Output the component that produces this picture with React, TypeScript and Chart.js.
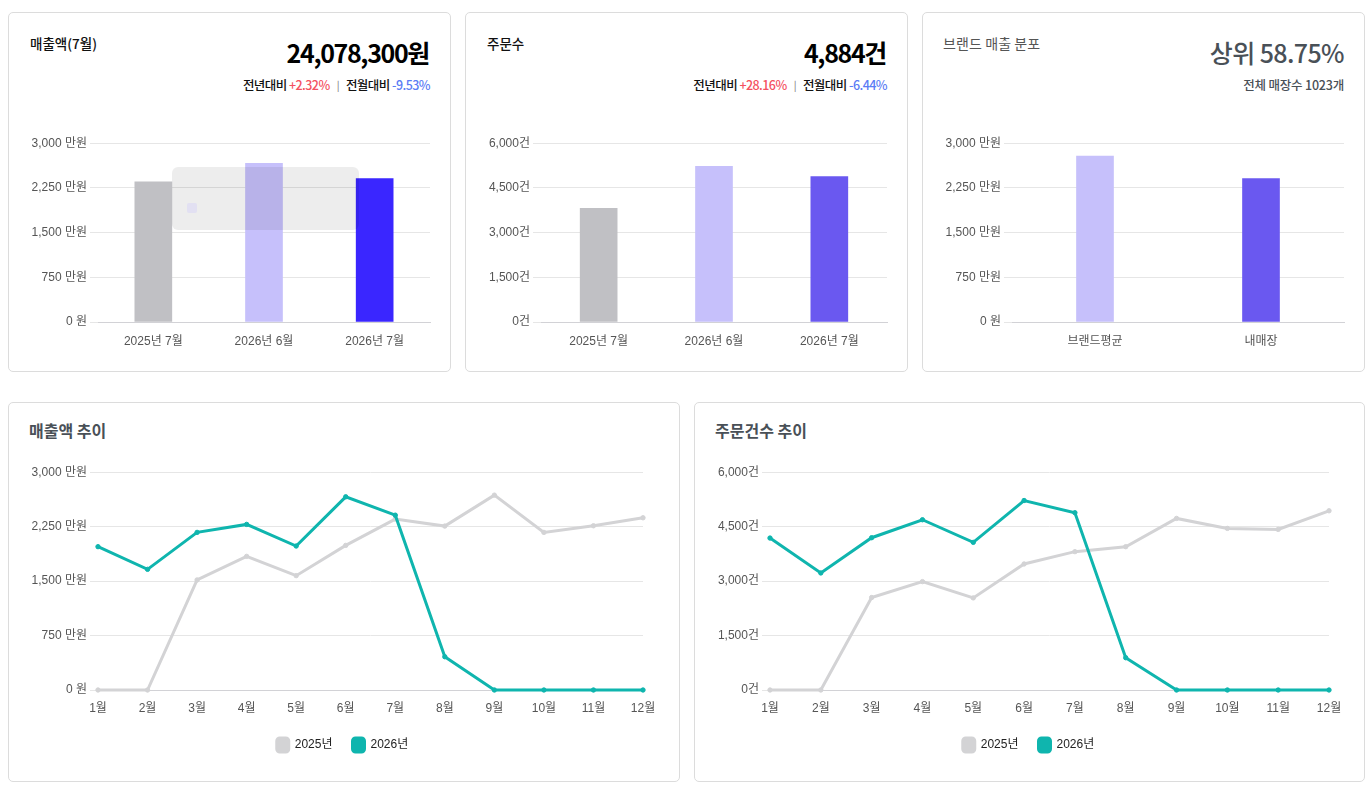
import React, { useEffect, useRef } from "react";
import { Chart, registerables } from "chart.js";

Chart.register(...registerables);

const barLabelsA = ["2025년 7월", "2026년 6월", "2026년 7월"];
const salesBars = [2353, 2662, 2408];
const orderBars = [3811, 5220, 4884];
const brandLabels = ["브랜드평균", "내매장"];
const brandBars = [2782, 2408];
const months = ["1월", "2월", "3월", "4월", "5월", "6월", "7월", "8월", "9월", "10월", "11월", "12월"];
const sales2025 = [0, 0, 1516, 1841, 1575, 1992, 2354, 2258, 2684, 2171, 2262, 2372];
const sales2026 = [1974, 1662, 2171, 2281, 1983, 2661, 2408, 458, 0, 0, 0, 0];
const orders2025 = [0, 0, 2547, 2986, 2537, 3472, 3811, 3948, 4727, 4452, 4424, 4937];
const orders2026 = [4186, 3224, 4195, 4690, 4067, 5220, 4884, 889, 0, 0, 0, 0];

const FONT = '"Liberation Sans", "Noto Sans CJK KR", sans-serif';
const KR = '"Noto Sans CJK KR", "Noto Sans", sans-serif';
const won = (v: number) => (v === 0 ? "0 원" : `${v.toLocaleString("en-US")} 만원`);
const gun = (v: number) => `${v.toLocaleString("en-US")}건`;

function axes(max: number, fmt: (v: number) => string, axisW: number, xH: number, xPad: number) {
  return {
    x: {
      grid: { display: false },
      border: { display: true, color: "#d2d2d6" },
      ticks: { color: "#555", font: { family: FONT, size: 12 }, padding: xPad, maxRotation: 0, autoSkip: false },
      afterFit: (s: any) => { s.height = xH; },
    },
    y: {
      min: 0,
      max,
      grid: { color: "#e6e6e6" },
      border: { display: false },
      ticks: { stepSize: max / 4, color: "#555", font: { family: FONT, size: 12 }, callback: (v: any) => fmt(Number(v)) },
      afterFit: (s: any) => { s.width = axisW; },
    },
  };
}

function BarChart(p: { box: number[]; labels: string[]; values: number[]; colors: string[]; max: number; fmt: (v: number) => string; axisW: number; padR: number }) {
  const ref = useRef<HTMLCanvasElement>(null);
  useEffect(() => {
    const c = new Chart(ref.current!, {
      type: "bar",
      data: { labels: p.labels, datasets: [{ data: p.values, backgroundColor: p.colors, barThickness: 37 }] },
      options: {
        animation: false,
        responsive: false,
        devicePixelRatio: 1,
        layout: { padding: { top: 10, right: p.padR, bottom: 0, left: 0 } },
        plugins: { legend: { display: false }, tooltip: { enabled: false } },
        scales: axes(p.max, p.fmt, p.axisW, 30, 4) as any,
      },
    });
    return () => c.destroy();
  }, []);
  const [l, t, w, h] = p.box;
  return <canvas ref={ref} width={w} height={h} style={{ position: "absolute", left: l, top: t, width: w, height: h }} />;
}

const shiftLegend = {
  id: "shiftLegend",
  afterLayout(chart: any) {
    chart.legend.left += 10;
    chart.legend.right += 10;
  },
};

function LineChart(p: { box: number[]; a: number[]; b: number[]; max: number; fmt: (v: number) => string; axisW: number; padR: number }) {
  const ref = useRef<HTMLCanvasElement>(null);
  useEffect(() => {
    const mk = (label: string, data: number[], color: string, order: number) => ({
      label, data, borderColor: color, backgroundColor: color, pointBackgroundColor: color, pointBorderColor: color,
      borderWidth: 3, pointRadius: 2.2, pointBorderWidth: 1, tension: 0, order, clip: false,
    });
    const c = new Chart(ref.current!, {
      type: "line",
      data: { labels: months, datasets: [mk("2025년", p.a, "#d3d3d5", 2), mk("2026년", p.b, "#0fb5ae", 1)] },
      plugins: [shiftLegend],
      options: {
        animation: false,
        responsive: false,
        devicePixelRatio: 1,
        layout: { padding: { top: 10, right: p.padR, bottom: 0, left: 0 } },
        plugins: {
          tooltip: { enabled: false },
          legend: {
            position: "bottom",
            labels: {
              boxWidth: 12, boxHeight: 14, useBorderRadius: true, borderRadius: 3, padding: 20, color: "#222", font: { family: FONT, size: 12 },
              sort: (a: any, b: any) => a.datasetIndex - b.datasetIndex,
            },
          },
        },
        scales: axes(p.max, p.fmt, p.axisW, 28, 3) as any,
      },
    });
    return () => c.destroy();
  }, []);
  const [l, t, w, h] = p.box;
  return <canvas ref={ref} width={w} height={h} style={{ position: "absolute", left: l, top: t, width: w, height: h }} />;
}

const abs = (l: number, t: number, w: number, h: number): React.CSSProperties => ({ position: "absolute", left: l, top: t, width: w, height: h, boxSizing: "border-box" });
const Card = (p: { x: number; y: number; w: number; h: number }) => (
  <div style={{ ...abs(p.x, p.y, p.w, p.h), border: "1px solid #dcdcdc", borderRadius: 5, background: "#fff" }} />
);
const Txt = (p: { x?: number; r?: number; y: number; size: number; weight: number; color: string; ls?: number; children: any }) => (
  <div style={{ position: "absolute", left: p.x, right: p.r !== undefined ? 1372 - p.r : undefined, top: p.y, lineHeight: "20px", height: 20, whiteSpace: "nowrap", fontFamily: KR, fontSize: p.size, fontWeight: p.weight, color: p.color, letterSpacing: p.ls ?? 0 }}>{p.children}</div>
);
const Red = (p: { children: any }) => <span style={{ color: "#f4525f" }}>{p.children}</span>;
const Blue = (p: { children: any }) => <span style={{ color: "#5b7cf5" }}>{p.children}</span>;
const Sep = () => <span style={{ color: "#888", margin: "0 7px", fontSize: 10, position: "relative", top: -1 }}>|</span>;

export default function App() {
  return (
    <div style={{ position: "absolute", left: 0, top: 0, width: 1372, height: 800, background: "#fff", overflow: "hidden" }}>
      <Card x={8} y={12} w={443} h={360} />
      <Card x={465} y={12} w={443} h={360} />
      <Card x={922} y={12} w={443} h={360} />
      <Card x={8} y={402} w={672} h={380} />
      <Card x={694} y={402} w={671} h={380} />

      <Txt x={30} y={33} size={13.5} weight={500} color="#111">매출액(7월)</Txt>
      <Txt r={429} y={42} size={25} weight={700} color="#000" ls={-1.35}>24,078,300원</Txt>
      <Txt r={430} y={75} size={12.5} weight={500} color="#111" ls={-0.55}>전년대비 <Red>+2.32%</Red><Sep />전월대비 <Blue>-9.53%</Blue></Txt>

      <Txt x={487} y={33} size={13.5} weight={500} color="#111">주문수</Txt>
      <Txt r={886} y={42} size={25} weight={700} color="#000" ls={-1.35}>4,884건</Txt>
      <Txt r={887} y={75} size={12.5} weight={500} color="#111" ls={-0.55}>전년대비 <Red>+28.16%</Red><Sep />전월대비 <Blue>-6.44%</Blue></Txt>

      <Txt x={943} y={33} size={14} weight={400} color="#555" ls={0.1}>브랜드 매출 분포</Txt>
      <Txt r={1344} y={42} size={25} weight={500} color="#495057" ls={-0.6}>상위 58.75%</Txt>
      <Txt r={1344} y={75} size={12.5} weight={500} color="#495057" ls={-0.2}>전체 매장수 1023개</Txt>

      <Txt x={29} y={420} size={16} weight={700} color="#495057">매출액 추이</Txt>
      <Txt x={715} y={420} size={16} weight={700} color="#495057">주문건수 추이</Txt>

      <BarChart box={[22, 133, 429, 219]} labels={barLabelsA} values={salesBars} colors={["#c0c0c4", "#c6c0fb", "#3a26ff"]} max={3000} fmt={won} axisW={76} padR={21} />
      <BarChart box={[479, 133, 429, 219]} labels={barLabelsA} values={orderBars} colors={["#c0c0c4", "#c6c0fb", "#6a58f0"]} max={6000} fmt={gun} axisW={62} padR={21} />
      <BarChart box={[936, 133, 429, 219]} labels={brandLabels} values={brandBars} colors={["#c6c0fb", "#6a58f0"]} max={3000} fmt={won} axisW={76} padR={21} />

      <LineChart box={[22, 462, 644, 300]} a={sales2025} b={sales2026} max={3000} fmt={won} axisW={76} padR={23} />
      <LineChart box={[708, 462, 643, 300]} a={orders2025} b={orders2026} max={6000} fmt={gun} axisW={62} padR={22} />

      <div style={{ ...abs(172, 167, 187, 63), background: "rgba(0,0,0,0.07)", borderRadius: 6 }} />
      <div style={{ ...abs(187, 203, 10, 10), background: "rgba(198,192,251,0.3)", borderRadius: 2 }} />
    </div>
  );
}
